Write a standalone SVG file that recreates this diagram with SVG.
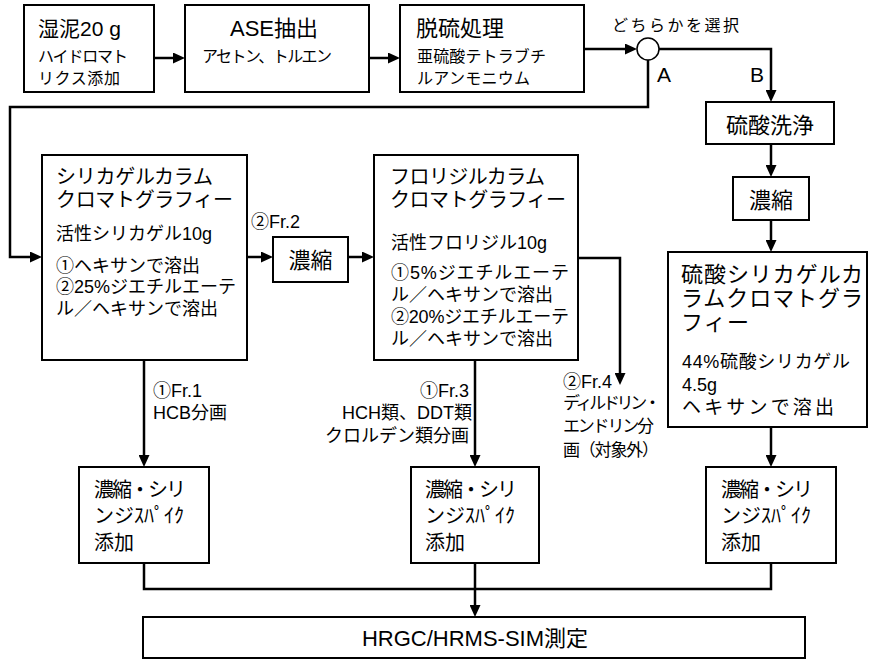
<svg xmlns="http://www.w3.org/2000/svg" width="869" height="660" viewBox="0 0 869 660">
<style>
.box{fill:#fff;stroke:#000;stroke-width:2}
.con{fill:none;stroke:#000;stroke-width:2.5}
text{font-family:"Liberation Sans","Noto Sans CJK JP",sans-serif;fill:#000}
.s16{font-size:16px}
.s17{font-size:17px}
.s18{font-size:18px}
.s20{font-size:20px}
.s21{font-size:21px}
.s22{font-size:22px}
</style>
<defs>
<marker id="ah" markerUnits="userSpaceOnUse" markerWidth="12" markerHeight="11" refX="4" refY="5.5" orient="auto">
<path d="M0,0 L12,5.5 L0,11 z" fill="#000"/>
</marker>
</defs>
<rect width="869" height="660" fill="#fff"/>
<g id="connectors">
<path class="con" d="M154,58 H177" marker-end="url(#ah)"/>
<path class="con" d="M369,58 H392" marker-end="url(#ah)"/>
<path class="con" d="M584,49 H629" stroke-width="2" marker-end="url(#ah)"/>
<path class="con" d="M659,49 H771 V94" marker-end="url(#ah)"/>
<path class="con" d="M648,60 V107 H10 V257 H34" marker-end="url(#ah)"/>
<path class="con" d="M247,257 H265" marker-end="url(#ah)"/>
<path class="con" d="M348,257 H366" marker-end="url(#ah)"/>
<path class="con" d="M578,258 H620 V377" marker-end="url(#ah)"/>
<path class="con" d="M771,144 V169" marker-end="url(#ah)"/>
<path class="con" d="M771,220 V244" marker-end="url(#ah)"/>
<path class="con" d="M144,360 V459" marker-end="url(#ah)"/>
<path class="con" d="M475,361 V459" marker-end="url(#ah)"/>
<path class="con" d="M771,427 V459" marker-end="url(#ah)"/>
<path class="con" d="M144,563 V589 H771 V563"/>
<path class="con" d="M475,563 V609" marker-end="url(#ah)"/>
</g>
<g id="n-sample">
<rect class="box" x="24" y="5" width="130" height="87"/>
<text class="s21" x="38" y="36">湿泥20 g</text>
<text class="s16" x="38" y="62" textLength="90">ハイドロマト</text>
<text class="s16" x="38" y="84" textLength="82">リクス添加</text>
</g>
<g id="n-ase">
<rect class="box" x="185" y="5" width="184" height="87"/>
<text class="s22" x="274" y="36" text-anchor="middle">ASE抽出</text>
<text class="s16" x="202" y="62" textLength="130">アセトン、トルエン</text>
</g>
<g id="n-desulf">
<rect class="box" x="400" y="5" width="184" height="87"/>
<text class="s22" x="416" y="36">脱硫処理</text>
<text class="s16" x="417" y="62" textLength="129">亜硫酸テトラブチ</text>
<text class="s16" x="417" y="84" textLength="113">ルアンモニウム</text>
</g>
<g id="n-select">
<circle cx="648" cy="49" r="11" fill="#fff" stroke="#000" stroke-width="1.5"/>
<text class="s16" x="612" y="31" textLength="127">どちらかを選択</text>
<text class="s21" x="657" y="82">A</text>
<text class="s21" x="750" y="82">B</text>
</g>
<g id="n-silica">
<rect class="box" x="42" y="155" width="205" height="205"/>
<text class="s20" x="56" y="184" textLength="157">シリカゲルカラム</text>
<text class="s20" x="56" y="207" textLength="177">クロマトグラフィー</text>
<text class="s18" x="56" y="240">活性シリカゲル10g</text>
<text class="s18" x="56" y="272">①ヘキサンで溶出</text>
<text class="s18" x="56" y="293">②25%ジエチルエーテ</text>
<text class="s18" x="56" y="315">ル／ヘキサンで溶出</text>
</g>
<text class="s18" x="251" y="228">②Fr.2</text>
<g id="n-conc1">
<rect class="box" x="273" y="237" width="75" height="45"/>
<text class="s22" x="310.5" y="268" text-anchor="middle">濃縮</text>
</g>
<g id="n-florisil">
<rect class="box" x="374" y="155" width="204" height="205"/>
<text class="s20" x="390" y="184" textLength="155">フロリジルカラム</text>
<text class="s20" x="390" y="207" textLength="176">クロマトグラフィー</text>
<text class="s18" x="391" y="249">活性フロリジル10g</text>
<text class="s18" x="391" y="279" textLength="178">①5%ジエチルエーテ</text>
<text class="s18" x="391" y="301">ル／ヘキサンで溶出</text>
<text class="s18" x="391" y="323" textLength="178">②20%ジエチルエーテ</text>
<text class="s18" x="391" y="345">ル／ヘキサンで溶出</text>
</g>
<g id="n-h2so4wash">
<rect class="box" x="706" y="102" width="128" height="42"/>
<text class="s22" x="770" y="133" text-anchor="middle">硫酸洗浄</text>
</g>
<g id="n-conc2">
<rect class="box" x="733" y="177" width="76" height="43"/>
<text class="s22" x="771" y="208" text-anchor="middle">濃縮</text>
</g>
<g id="n-acidsilica">
<rect class="box" x="668" y="252" width="199" height="175"/>
<text class="s22" x="681" y="282" textLength="182">硫酸シリカゲルカ</text>
<text class="s22" x="681" y="306" textLength="182">ラムクロマトグラ</text>
<text class="s22" x="681" y="330" textLength="68">フィー</text>
<text class="s18" x="682" y="368" textLength="168">44%硫酸シリカゲル</text>
<text class="s18" x="682" y="391">4.5g</text>
<text class="s19" x="682" y="414" font-size="19" textLength="152">ヘキサンで溶出</text>
</g>
<g id="labels">
<text class="s18" x="153" y="397">①Fr.1</text>
<text class="s18" x="153" y="419">HCB分画</text>
<text class="s18" x="469" y="397" text-anchor="end">①Fr.3</text>
<text class="s18" x="472" y="419" text-anchor="end">HCH類、DDT類</text>
<text class="s18" x="469" y="442" text-anchor="end">クロルデン類分画</text>
<text class="s18" x="563" y="388">②Fr.4</text>
<text class="s17" x="563" y="409" textLength="98">ディルドリン・</text>
<text class="s17" x="563" y="432" textLength="91">エンドリン分</text>
<text class="s17" x="563" y="456" textLength="96">画（対象外）</text>
</g>
<g id="n-spike1">
<rect class="box" x="79" y="467" width="130" height="96"/>
<text class="s20" x="94" y="497" textLength="92">濃縮・シリ</text>
<text class="s20" x="94" y="523">ンジｽﾊﾟｲｸ</text>
<text class="s20" x="94" y="550">添加</text>
</g>
<g id="n-spike2">
<rect class="box" x="411" y="467" width="128" height="96"/>
<text class="s20" x="425" y="497" textLength="92">濃縮・シリ</text>
<text class="s20" x="425" y="523">ンジｽﾊﾟｲｸ</text>
<text class="s20" x="425" y="550">添加</text>
</g>
<g id="n-spike3">
<rect class="box" x="706" y="467" width="130" height="96"/>
<text class="s20" x="721" y="497" textLength="92">濃縮・シリ</text>
<text class="s20" x="721" y="523">ンジｽﾊﾟｲｸ</text>
<text class="s20" x="721" y="550">添加</text>
</g>
<g id="n-hrgc">
<rect class="box" x="143" y="617" width="662" height="41"/>
<text class="s22" x="475" y="646" text-anchor="middle">HRGC/HRMS-SIM測定</text>
</g>
</svg>
